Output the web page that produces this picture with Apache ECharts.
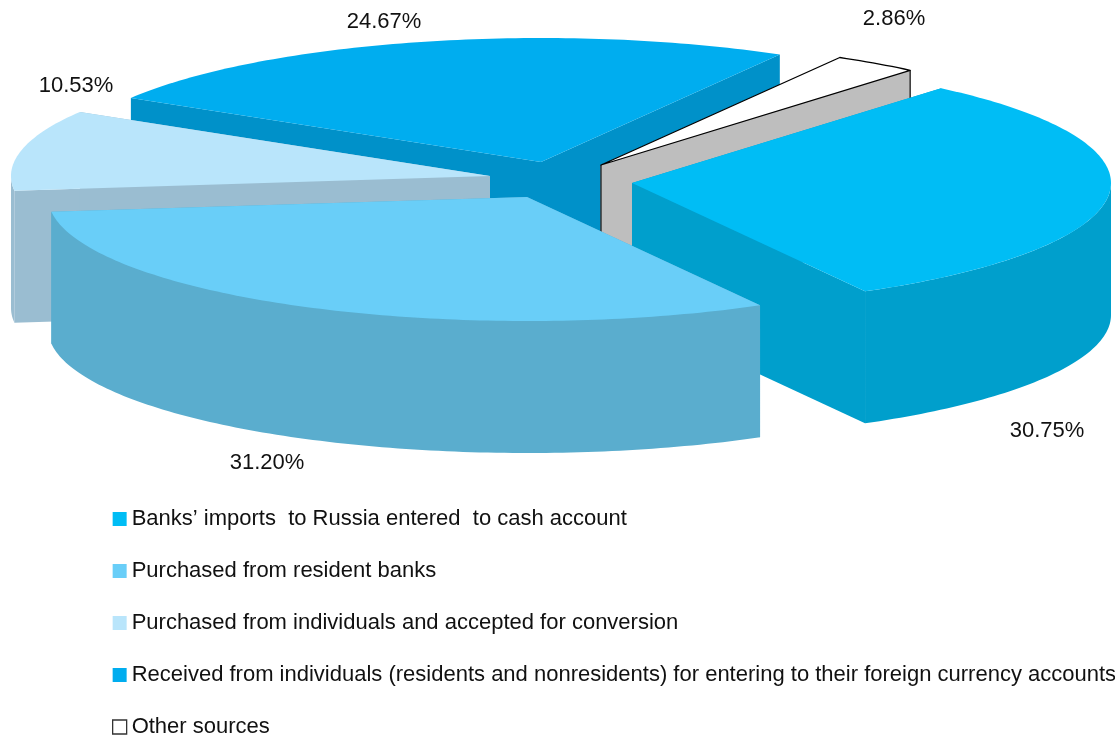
<!DOCTYPE html>
<html>
<head>
<meta charset="utf-8">
<style>
  html, body { margin: 0; padding: 0; background: #fff; overflow: hidden; }
  #chart { width: 1115px; height: 738px; }
</style>
</head>
<body>
<div id="chart"></div>
<script src="https://cdn.jsdelivr.net/npm/echarts@6/dist/echarts.min.js"></script>
<script>
// data, in the order of the pie going clockwise
const categories = [
  'Banks’ imports  to Russia entered  to cash account',
  'Purchased from resident banks',
  'Purchased from individuals and accepted for conversion',
  'Received from individuals (residents and nonresidents) for entering to their foreign currency accounts',
  'Other sources'
];
const shares = [30.75, 31.20, 10.53, 24.67, 2.86];

// styles
const topColors = ['#00BDF5', '#69CEF8', '#B9E5FB', '#00ADEF', '#FFFFFF'];
const wallColors = ['#009FCC', '#5AADCE', '#9ABDD1', '#0091C9', '#BEBEBE'];
const outlined = [false, false, false, false, true];

// layout: ellipse of the top face, height of the walls, exploded apex of each slice
const RX = 479;
const RY = 124;
const DEPTH = 132;
const START_ANGLE = -49.8;
const apexes = [[632, 183], [527, 197], [490, 176], [541, 162], [601, 165]];
const labelCenters = [[1047, 431], [267, 463], [76, 86], [384, 22], [894, 19]];
const paintOrder = [3, 4, 2, 0, 1]; // back to front

const total = shares.reduce((a, b) => a + b, 0);
const FONT = '22px "Liberation Sans", Arial, sans-serif';

// angles of each slice, from its share
let cursor = START_ANGLE;
const sliceAngles = shares.map((v) => {
  const from = cursor;
  cursor += (v / total) * 360;
  return [from, cursor];
});

const rimPoint = (apex, deg, drop) => {
  const t = (deg * Math.PI) / 180;
  return [apex[0] + RX * Math.cos(t), apex[1] + RY * Math.sin(t) + drop];
};

const arcPoints = (apex, from, to, drop) => {
  const steps = Math.max(1, Math.ceil(Math.abs(to - from)));
  const pts = [];
  for (let s = 0; s <= steps; s++) {
    pts.push(rimPoint(apex, from + ((to - from) * s) / steps, drop));
  }
  return pts;
};

const radialWall = (apex, deg, fill) => ({
  type: 'polygon',
  shape: {
    points: [
      apex,
      rimPoint(apex, deg, 0),
      rimPoint(apex, deg, DEPTH),
      [apex[0], apex[1] + DEPTH]
    ]
  },
  style: { fill }
});

const makeRenderItem = (idx) => (params, api) => {
  const apex = apexes[idx];
  const [from, to] = sliceAngles[idx];
  const wall = wallColors[idx];
  const children = [radialWall(apex, from, wall), radialWall(apex, to, wall)];

  // outer wall, only the part that faces the viewer
  const frontFrom = Math.max(from, 0);
  const frontTo = Math.min(to, 180);
  if (frontTo > frontFrom) {
    children.push({
      type: 'polygon',
      shape: {
        points: arcPoints(apex, frontFrom, frontTo, 0).concat(
          arcPoints(apex, frontTo, frontFrom, DEPTH)
        )
      },
      style: { fill: wall }
    });
  }

  if (outlined[idx]) {
    const edge = rimPoint(apex, to, 0);
    [apex, edge].forEach((p) => {
      children.push({
        type: 'line',
        shape: { x1: p[0], y1: p[1], x2: p[0], y2: p[1] + DEPTH },
        style: { stroke: '#333', lineWidth: 1.5 }
      });
    });
  }

  children.push({
    type: 'polygon',
    shape: { points: [apex].concat(arcPoints(apex, from, to, 0)) },
    style: outlined[idx]
      ? { fill: topColors[idx], stroke: '#000', lineWidth: 1.3, lineJoin: 'round' }
      : { fill: topColors[idx] }
  });

  children.push({
    type: 'text',
    x: labelCenters[idx][0],
    y: labelCenters[idx][1],
    style: {
      text: api.value(0).toFixed(2) + '%',
      fill: '#111',
      font: FONT,
      align: 'center',
      verticalAlign: 'middle'
    }
  });

  return { type: 'group', children };
};

const chart = echarts.init(document.getElementById('chart'));

chart.setOption({
  animation: false,
  backgroundColor: '#fff',
  legend: {
    orient: 'vertical',
    left: 107,
    top: 503,
    height: 235,
    itemWidth: 14,
    itemHeight: 14,
    itemGap: 30,
    icon: 'rect',
    selectedMode: false,
    textStyle: { fontSize: 22, color: '#111', fontFamily: '"Liberation Sans", Arial, sans-serif' },
    data: categories.map((name, i) => ({
      name,
      itemStyle: outlined[i]
        ? { color: topColors[i], borderColor: '#333', borderWidth: 1.3 }
        : { color: topColors[i], borderWidth: 0 }
    }))
  },
  series: paintOrder.map((idx) => ({
    type: 'custom',
    name: categories[idx],
    coordinateSystem: 'none',
    silent: true,
    itemStyle: { color: topColors[idx] },
    renderItem: makeRenderItem(idx),
    data: [[shares[idx]]]
  }))
});
</script>
</body>
</html>
